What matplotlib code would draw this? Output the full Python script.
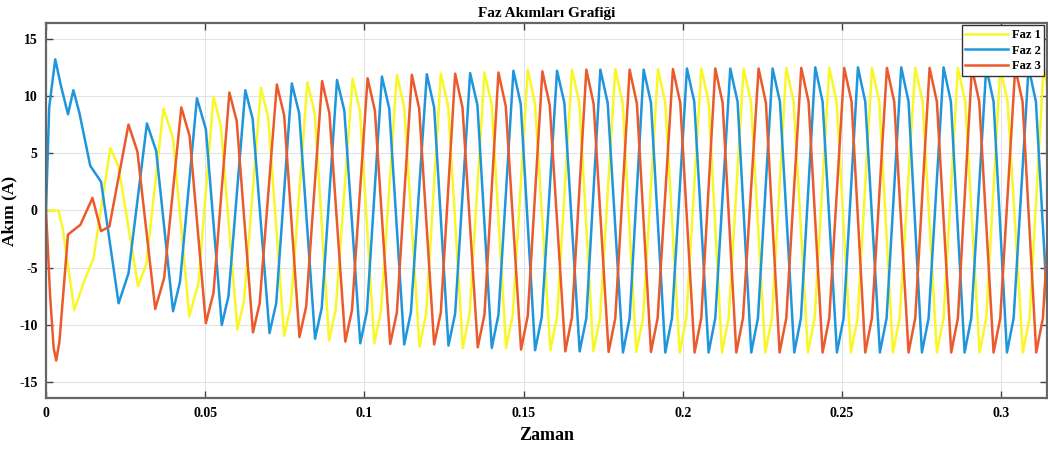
import matplotlib
matplotlib.use('Agg')
import matplotlib.pyplot as plt
from matplotlib.ticker import FuncFormatter

# (zaman [ms], akim [A]) tepe / cukur noktalari
faz1 = [(0, 0), (3.9, 0), (5.2, -1.5), (8.9, -8.7), (11.8, -6.3), (14.9, -4.2), (20.2, 5.45), (22.8, 3.8),
        (28.9, -6.6), (31.5, -4.7), (36.9, 8.9), (39.9, 6.3), (45.0, -9.25), (47.9, -6.3), (52.6, 9.95),
        (54.9, 7.4), (60.1, -10.4), (62.2, -7.9), (67.5, 10.7), (69.8, 8.1), (74.8, -10.95), (76.9, -8.3),
        (82.1, 11.2), (84.4, 8.5), (88.9, -11.35), (91.0, -8.6), (96.3, 11.5), (98.6, 8.7), (103.1, -11.6),
        (105.2, -8.8), (110.2, 11.85), (112.5, 9.0), (117.3, -11.9), (119.4, -9.0), (124.0, 11.95), (126.3, 9.1),
        (130.9, -12.0), (133.0, -9.1), (137.7, 12.05), (140.0, 9.2), (144.5, -12.0), (146.6, -9.1), (151.3, 12.3),
        (153.6, 9.3), (158.4, -12.2), (160.5, -9.3), (165.2, 12.3), (167.5, 9.4), (171.9, -12.3), (174.0, -9.4),
        (178.8, 12.35), (181.1, 9.4), (185.4, -12.35), (187.5, -9.4), (192.2, 12.35), (194.5, 9.4), (199.0, -12.4),
        (201.1, -9.4), (205.8, 12.4), (208.1, 9.5), (212.3, -12.4), (214.4, -9.4), (219.1, 12.4), (221.4, 9.5),
        (225.9, -12.4), (228.0, -9.4), (232.5, 12.45), (234.8, 9.5), (239.3, -12.4), (241.4, -9.4), (246.0, 12.45),
        (248.3, 9.5), (252.8, -12.4), (254.9, -9.4), (259.4, 12.45), (261.7, 9.5), (266.0, -12.4), (268.1, -9.4),
        (273.0, 12.45), (275.3, 9.5), (279.8, -12.4), (281.9, -9.4), (286.4, 12.45), (288.7, 9.5), (293.2, -12.4),
        (295.3, -9.4), (299.7, 12.45), (302.0, 9.5), (306.8, -12.4), (308.9, -9.4), (313.3, 12.45), (315.6, 9.5)]

faz2 = [(0, 0), (1.0, 9.0), (2.9, 13.2), (4.6, 11.0), (6.9, 8.4), (8.6, 10.5), (10.5, 8.5), (13.9, 3.9),
        (17.3, 2.5), (22.8, -8.1), (25.9, -5.5), (31.7, 7.6), (34.6, 5.2), (39.9, -8.8), (42.1, -6.2),
        (47.4, 9.8), (50.2, 7.1), (55.2, -10.0), (57.3, -7.5), (62.6, 10.5), (64.9, 8.0), (70.2, -10.7),
        (72.3, -8.1), (77.2, 11.1), (79.5, 8.5), (84.5, -11.2), (86.6, -8.5), (91.4, 11.4), (93.7, 8.7),
        (98.7, -11.6), (100.8, -8.8), (105.5, 11.7), (107.8, 8.9), (112.5, -11.7), (114.6, -8.9), (119.6, 11.9),
        (121.9, 9.0), (126.4, -11.8), (128.5, -9.0), (133.2, 12.0), (135.5, 9.2), (140.0, -12.0), (142.1, -9.1),
        (146.8, 12.2), (149.1, 9.3), (153.6, -12.2), (155.7, -9.3), (160.5, 12.2), (162.8, 9.4), (167.6, -12.3),
        (169.7, -9.4), (174.1, 12.3), (176.4, 9.4), (181.2, -12.4), (183.3, -9.4), (187.7, 12.3), (190.0, 9.4),
        (194.5, -12.4), (196.6, -9.4), (201.3, 12.4), (203.6, 9.5), (208.1, -12.4), (210.2, -9.4), (214.9, 12.4),
        (217.2, 9.5), (221.5, -12.4), (223.6, -9.4), (228.2, 12.4), (230.5, 9.5), (235.0, -12.4), (237.1, -9.4),
        (241.6, 12.5), (243.9, 9.5), (248.4, -12.4), (250.5, -9.4), (255.0, 12.5), (257.3, 9.5), (261.9, -12.4),
        (264.0, -9.4), (268.6, 12.5), (270.9, 9.5), (275.1, -12.4), (277.2, -9.4), (281.9, 12.5), (284.2, 9.5),
        (288.5, -12.4), (290.6, -9.4), (295.3, 12.5), (297.6, 9.5), (301.8, -12.4), (303.9, -9.4), (308.6, 12.5),
        (310.9, 9.5), (315.3, -12.4)]

faz3 = [(0, 0), (1.3, -7.5), (2.4, -12.0), (3.2, -13.1), (4.2, -11.5), (6.9, -2.1), (10.8, -1.25), (14.6, 1.1),
        (17.3, -1.8), (19.9, -1.4), (25.9, 7.5), (28.7, 5.15), (34.3, -8.6), (37.1, -5.9), (42.5, 9.0),
        (45.1, 6.5), (50.2, -9.85), (52.6, -7.2), (57.6, 10.3), (59.9, 7.8), (65.0, -10.65), (67.1, -8.1),
        (72.5, 11.0), (74.8, 8.3), (79.6, -11.05), (81.7, -8.4), (86.7, 11.3), (89.0, 8.5), (94.0, -11.45),
        (96.1, -8.7), (101.0, 11.55), (103.3, 8.7), (108.1, -11.65), (110.2, -8.9), (114.9, 11.85), (117.2, 8.9),
        (121.9, -11.7), (124.0, -8.9), (128.5, 11.95), (130.8, 9.0), (135.6, -11.95), (137.7, -9.1), (142.1, 12.05),
        (144.4, 9.1), (149.2, -12.15), (151.3, -9.2), (155.9, 12.15), (158.2, 9.2), (163.1, -12.3), (165.2, -9.3),
        (169.7, 12.3), (172.0, 9.3), (176.7, -12.35), (178.8, -9.4), (183.3, 12.3), (185.6, 9.3), (190.0, -12.35),
        (192.1, -9.4), (196.9, 12.35), (199.2, 9.4), (203.7, -12.4), (205.8, -9.4), (210.2, 12.4), (212.5, 9.4),
        (216.8, -12.4), (218.9, -9.4), (223.8, 12.4), (226.1, 9.4), (230.4, -12.4), (232.5, -9.4), (237.2, 12.45),
        (239.5, 9.5), (243.9, -12.4), (246.0, -9.4), (250.7, 12.45), (253.0, 9.5), (257.3, -12.4), (259.4, -9.4),
        (264.1, 12.45), (266.4, 9.5), (270.9, -12.4), (273.0, -9.4), (277.5, 12.45), (279.8, 9.5), (284.3, -12.4),
        (286.4, -9.4), (290.8, 12.45), (293.1, 9.5), (297.6, -12.4), (299.7, -9.4), (304.4, 12.45), (306.7, 9.5),
        (311.0, -12.4), (313.1, -9.4), (317.8, 12.45)]

labels = ['Faz 1', 'Faz 2', 'Faz 3']
colors = ['#F7F72A', '#1F96DC', '#EA5A2C']

plt.rcParams['font.family'] = ['Liberation Serif', 'DejaVu Serif']
plt.rcParams['font.weight'] = 'bold'
plt.rcParams['axes.unicode_minus'] = False

fig = plt.figure(figsize=(10.48, 4.5), dpi=100)
ax = fig.add_axes([0.0439, 0.1149, 0.9549, 0.8347])

for data, lab, col in zip([faz1, faz2, faz3], labels, colors):
    t = [p[0] / 1000 for p in data]
    i = [p[1] for p in data]
    ax.plot(t, i, color=col, linewidth=1.8, label=lab)

ax.set_xlim(0, 0.3143)
ax.set_ylim(-16.4, 16.4)
ax.set_xticks([0, 0.05, 0.1, 0.15, 0.2, 0.25, 0.3])
ax.set_yticks([-15, -10, -5, 0, 5, 10, 15])
ax.xaxis.set_major_formatter(FuncFormatter(lambda v, p: '%g' % round(v, 3)))
ax.grid(True, color='#E3E3E3', linewidth=0.8)
ax.tick_params(direction='in', top=True, right=True, length=5, width=1, color='#444444',
               labelsize=10, pad=6)
for s in ax.spines.values():
    s.set_color('#666666')
    s.set_linewidth(1.6)

ax.set_title('Faz Akımları Grafiği', fontsize=11, fontweight='bold', pad=4)
ax.set_xlabel('Zaman', fontsize=13, fontweight='bold', labelpad=5)
ax.set_ylabel('Akım (A)', fontsize=12.5, fontweight='bold')
ax.yaxis.set_label_coords(-0.029, 0.5)

leg = ax.legend(loc='upper right', fontsize=9, handlelength=3.4, borderaxespad=0.2,
                labelspacing=0.3, handletextpad=0.3, borderpad=0.3, fancybox=False,
                framealpha=1, edgecolor='#333333')
leg.get_frame().set_linewidth(1.0)

fig.savefig('out.png', dpi=100)
